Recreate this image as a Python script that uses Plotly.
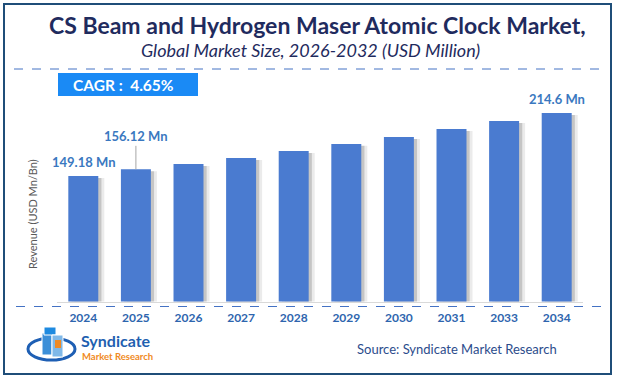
import plotly.graph_objects as go

W, H = 619, 378

years = ["2024", "2025", "2026", "2027", "2028", "2029", "2030", "2031", "2033", "2034"]
values = [149.18, 156.12, 161.7, 167.9, 175.2, 182.5, 189.7, 198.0, 206.3, 214.6]
labeled = {"2024": "149.18 Mn", "2025": "156.12 Mn", "2034": "214.6 Mn"}

title = "CS Beam and Hydrogen Maser Atomic Clock Market,"
subtitle = "Global Market Size, 2026-2032 (USD Million)"
cagr_text = "CAGR :  4.65%"
y_title = "Revenue (USD Mn/Bn)"
source = "Source: Syndicate Market Research"

FONT = "Lato"
BAR = "#4A7BD0"
LABEL = "#3A78C0"
NAVY = "#1F2B5E"


def px(x):
    return x / W


def py(y):
    return 1 - y / H


fig = go.Figure()
shadow_vals = [v - 2 for v in values]
fig.add_bar(x=years, y=shadow_vals, width=0.57, offset=-0.285 + 0.06,
            marker=dict(color="rgba(0,0,0,0.16)", line=dict(width=0)),
            hoverinfo="skip", showlegend=False)
fig.add_bar(x=years, y=shadow_vals, width=0.57, offset=-0.285 + 0.115,
            marker=dict(color="rgba(0,0,0,0.08)", line=dict(width=0)),
            hoverinfo="skip", showlegend=False)
fig.add_bar(x=years, y=values, width=0.57, offset=-0.285,
            marker=dict(color=BAR, line=dict(width=0)), showlegend=False)

annotations = []
for i, (yr, v) in enumerate(zip(years, values)):
    if yr in labeled:
        if yr == "2025":
            annotations.append(dict(x=i, y=v, xref="x", yref="y", text=f"<b>{labeled[yr]}</b>",
                                    showarrow=True, ax=0, ay=-33, arrowhead=0, arrowwidth=1,
                                    arrowcolor="#A6A6A6", standoff=0,
                                    font=dict(family=FONT, size=13, color=LABEL)))
        else:
            annotations.append(dict(x=i, y=v, xref="x", yref="y", text=f"<b>{labeled[yr]}</b>",
                                    showarrow=False, yshift=14, xanchor="center", yanchor="middle",
                                    font=dict(family=FONT, size=13, color=LABEL)))


def txt(x, y, text, size, color, xanchor="center", **kw):
    return dict(x=px(x), y=py(y), xref="paper", yref="paper", text=text, showarrow=False,
                xanchor=xanchor, yanchor="middle", font=dict(family=FONT, size=size, color=color), **kw)


annotations += [
    txt(317, 25, f"<b>{title}</b>", 23, NAVY),
    txt(310, 50, f"<i>{subtitle}</i>", 18, NAVY),
    txt(71, 85, f"<b>{cagr_text}</b>", 15.5, "white", xanchor="left"),
    txt(32, 214, y_title, 11, "#595959", textangle=-90),
    txt(457, 349, source, 13, "#2C4C8C"),
    txt(79, 340, "<b>Syndicate</b>", 16, "#1F5FB0", xanchor="left"),
    txt(80, 356, "<b>Market Research</b>", 9.5, "#F08A24", xanchor="left"),
]

shapes = [
    dict(type="rect", xref="paper", yref="paper", x0=px(4), x1=px(611), y0=py(4), y1=py(374),
         line=dict(color="#1F4E79", width=2), fillcolor="rgba(0,0,0,0)"),
    dict(type="line", xref="paper", yref="paper", x0=px(14), x1=px(604), y0=py(69), y1=py(69),
         line=dict(color="#4472C4", width=1, dash="dash")),
    dict(type="line", xref="paper", yref="paper", x0=px(16), x1=px(603), y0=py(306.5), y1=py(306.5),
         line=dict(color="#4472C4", width=1, dash="dash")),
    dict(type="rect", xref="paper", yref="paper", x0=px(58), x1=px(198), y0=py(73), y1=py(96),
         line=dict(width=0), fillcolor="#1A8AF5", layer="below"),
    dict(type="circle", xref="paper", yref="paper", x0=px(28), x1=px(75), y0=py(338), y1=py(360),
         line=dict(color="#1E5FB4", width=3), fillcolor="rgba(0,0,0,0)"),
    dict(type="rect", xref="paper", yref="paper", x0=px(42), x1=px(52), y0=py(333), y1=py(355),
         line=dict(color="white", width=1), fillcolor="#3C8FD8"),
    dict(type="rect", xref="paper", yref="paper", x0=px(44), x1=px(56), y0=py(327), y1=py(335),
         line=dict(color="white", width=1), fillcolor="#1E8AE0"),
    dict(type="rect", xref="paper", yref="paper", x0=px(52), x1=px(63), y0=py(335), y1=py(357),
         line=dict(color="white", width=1), fillcolor="#7FB8E8"),
    dict(type="rect", xref="paper", yref="paper", x0=px(55), x1=px(61), y0=py(340), y1=py(348),
         line=dict(width=0), fillcolor="#F08A24"),
]

fig.update_layout(
    width=W, height=H,
    margin=dict(l=0, r=0, t=0, b=0, pad=0, autoexpand=False),
    paper_bgcolor="white", plot_bgcolor="white",
    barmode="overlay",
    showlegend=False,
    xaxis=dict(domain=[px(57), px(583)], type="category", range=[-0.5, len(years) - 0.5],
               showline=True, linecolor="#D9D9D9",
               linewidth=1, showgrid=False, zeroline=False, ticks="", ticklabelstandoff=5,
               tickfont=dict(family=FONT, size=12, color="#2E65AE", weight="bold"),
               fixedrange=True),
    yaxis=dict(domain=[1 - 301.5 / H, 1 - 100 / H], range=[18.9, 228.1], visible=False,
               showgrid=False, fixedrange=True),
    annotations=annotations,
    shapes=shapes,
)

fig.write_html("out.html", config={"displayModeBar": False},
               post_script="document.body.style.margin='0';")
